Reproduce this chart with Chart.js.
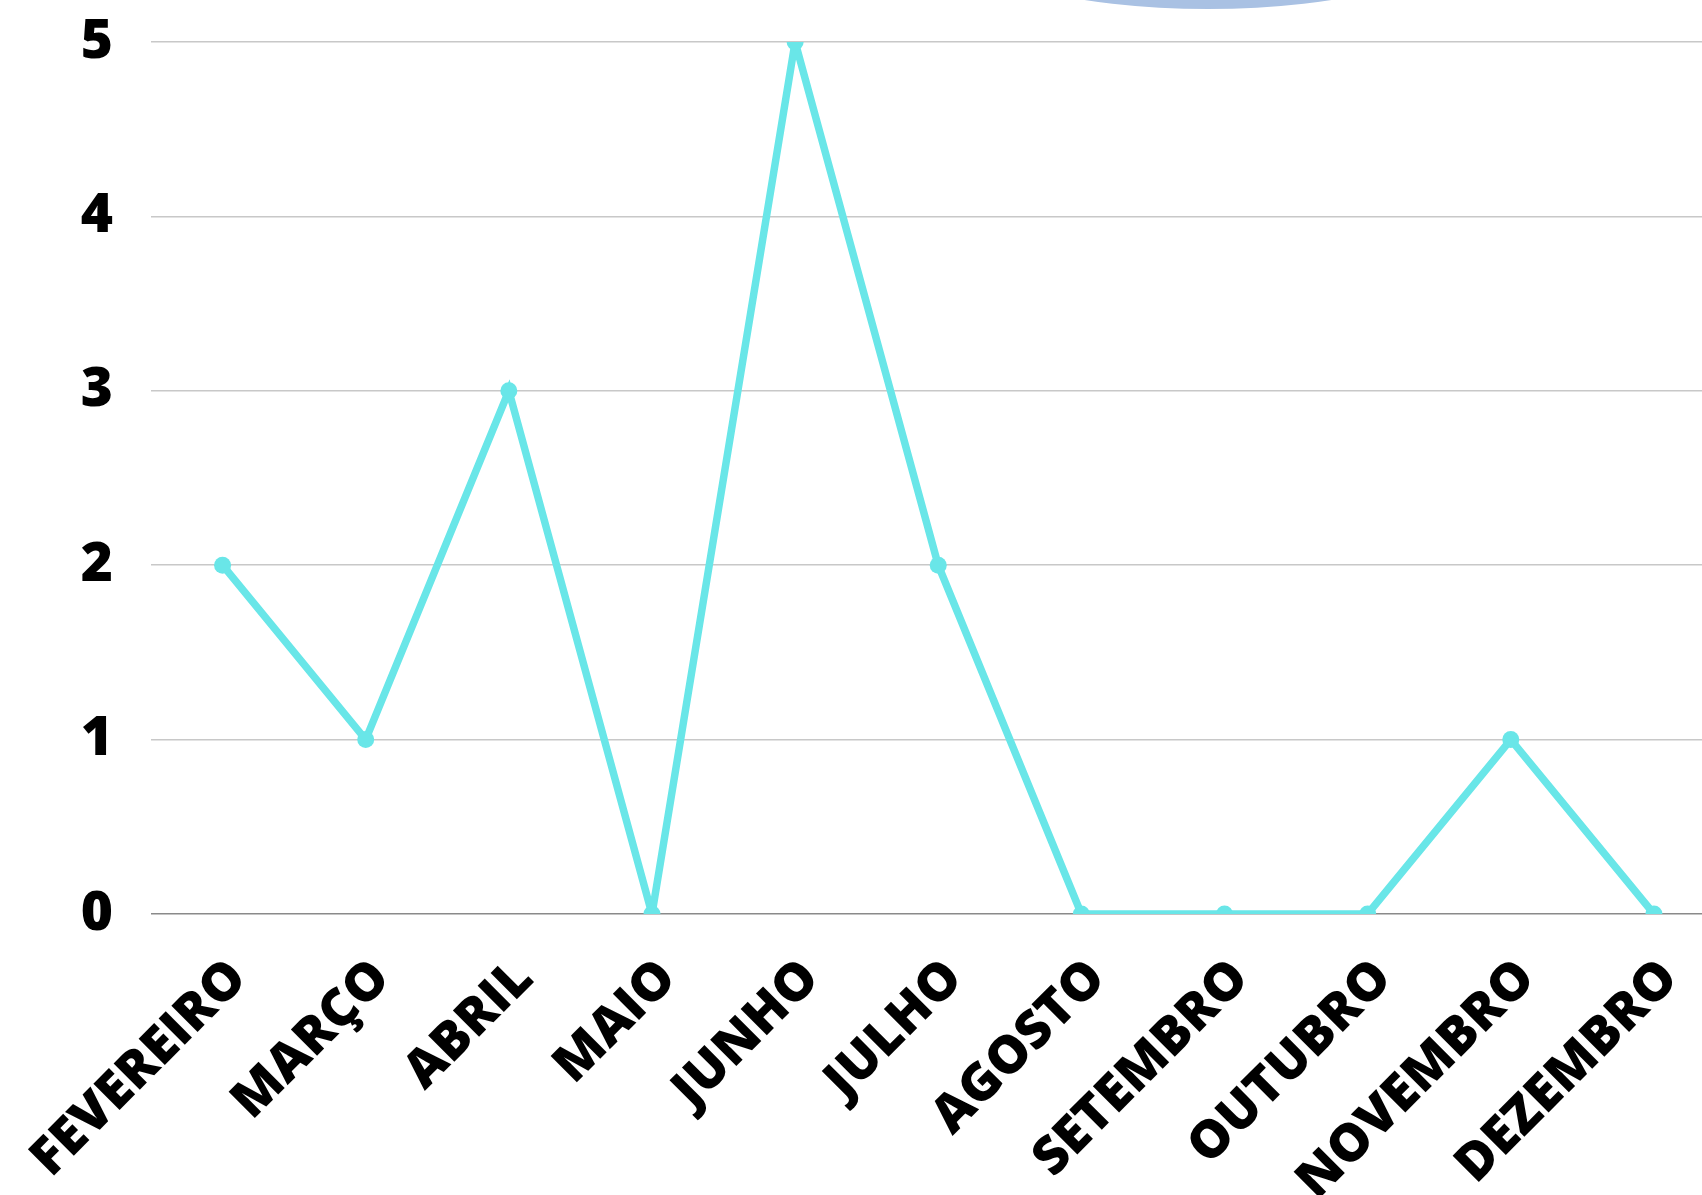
<!DOCTYPE html>
<html>
<head>
<meta charset="utf-8">
<script src="https://cdn.jsdelivr.net/npm/chart.js@4"></script>
<style>
  html, body { margin: 0; padding: 0; background: #fff; overflow: hidden; }
  #wrap { position: relative; width: 1734px; height: 1195px; }
</style>
</head>
<body>
<div id="wrap"><canvas id="grafico"></canvas></div>
<script>
// meses e valores
const meses = ["FEVEREIRO", "MARÇO", "ABRIL", "MAIO", "JUNHO", "JULHO", "AGOSTO", "SETEMBRO", "OUTUBRO", "NOVEMBRO", "DEZEMBRO"];
const valores = [2, 1, 3, 0, 5, 2, 0, 0, 0, 1, 0];
const ticksY = [0, 1, 2, 3, 4, 5];

const corLinha = "#69e6e8";

// elipse azul cortada no topo
const elipseTopo = {
    id: "elipseTopo",
    beforeDraw(chart) {
        const c = chart.ctx;
        c.save();
        c.fillStyle = "#a9c1e3";
        c.beginPath();
        c.ellipse(1208, -60, 250, 69, 0, 0, Math.PI * 2);
        c.fill();
        c.restore();
    }
};

new Chart(document.getElementById("grafico"), {
    type: "line",
    data: {
        labels: meses,
        datasets: [{
            data: valores,
            borderColor: corLinha,
            backgroundColor: corLinha,
            borderWidth: 7.5,
            pointRadius: 8.5,
            pointBackgroundColor: corLinha,
            pointBorderWidth: 0,
            tension: 0
        }]
    },
    options: {
        responsive: true,
        maintainAspectRatio: false,
        animation: false,
        layout: { padding: { top: 42, right: 0, left: 0, bottom: 0 } },
        plugins: { legend: { display: false }, tooltip: { enabled: false } },
        scales: {
            x: {
                offset: true,
                grid: { display: false },
                border: { display: false },
                afterFit: (s) => { s.height = 281; s.paddingLeft = 0; s.paddingRight = 0; },
                ticks: {
                    color: "#000",
                    minRotation: 45,
                    maxRotation: 45,
                    padding: 26,
                    labelOffset: 16,
                    font: { family: "'Open Sans'", size: 52, weight: 800 }
                }
            },
            y: {
                min: 0,
                max: 5,
                border: { display: false },
                afterFit: (s) => { s.width = 151; s.paddingTop = 0; s.paddingBottom = 0; },
                afterBuildTicks: (s) => { s.ticks = ticksY.map(v => ({ value: v })); },
                grid: {
                    color: (ctx) => ctx.tick && ctx.tick.value === 0 ? "#8a8a8a" : "#c8c8c8",
                    lineWidth: 1.5,
                    drawTicks: false
                },
                ticks: {
                    color: "#000",
                    padding: 38,
                    font: { family: "'Open Sans'", size: 55, weight: 800 }
                }
            }
        }
    },
    plugins: [elipseTopo]
});
</script>
</body>
</html>
